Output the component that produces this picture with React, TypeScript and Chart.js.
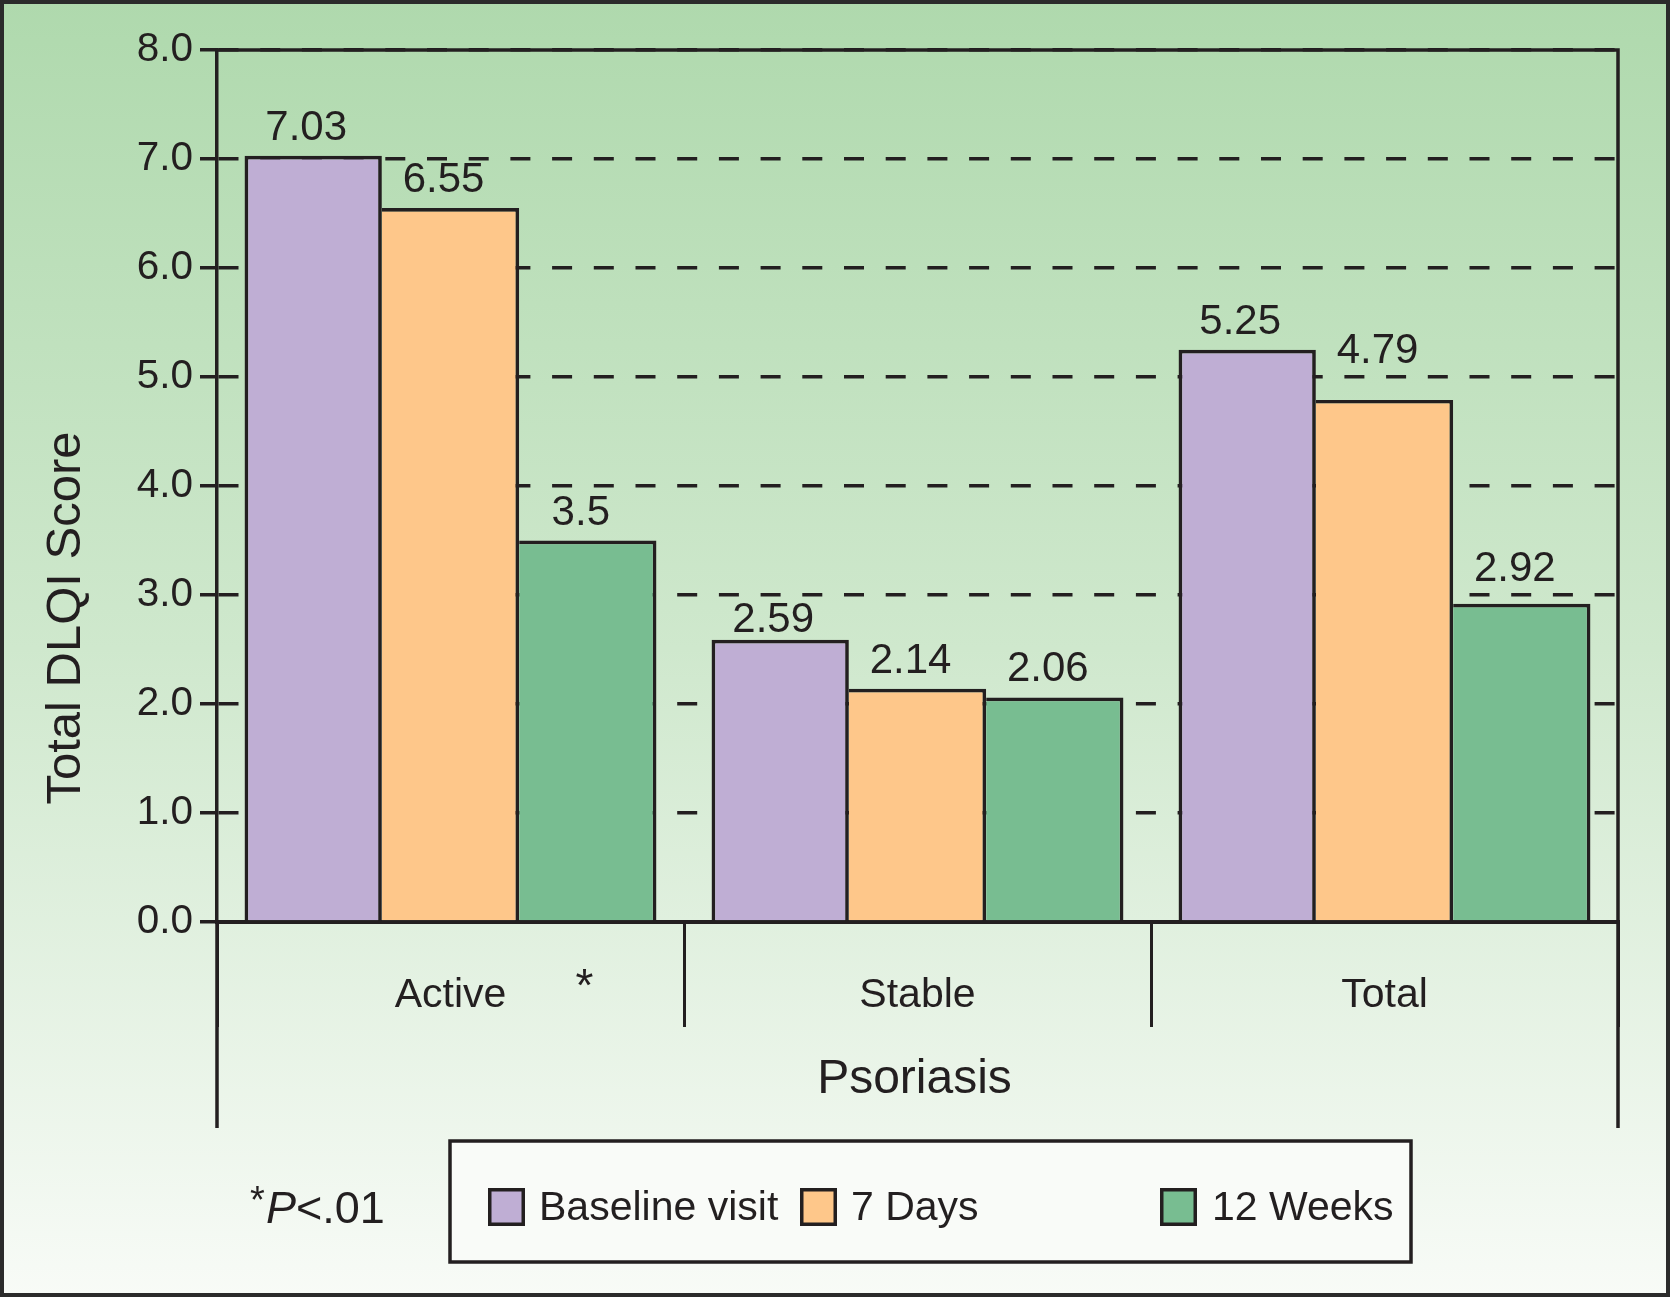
import React, { useEffect, useRef } from "react";
import { Chart, registerables } from "chart.js";

Chart.register(...registerables);

// ---- data ----
const categories = ["Active", "Stable", "Total"];
const seriesNames = ["Baseline visit", "7 Days", "12 Weeks"];
const baselineVisit = [7.03, 2.59, 5.25];
const sevenDays = [6.55, 2.14, 4.79];
const twelveWeeks = [3.5, 2.06, 2.92];
const yTickValues = [0, 1, 2, 3, 4, 5, 6, 7, 8];
const seriesColors = ["#bfaed4", "#fec78a", "#78bd91"];
const yTitle = "Total DLQI Score";
const xTitle = "Psoriasis";
const starCategory = "Active";
const footnote = ["*", "P", "<.01"];

// ---- style ----
const W = 1670;
const H = 1297;
const INK = "#231f20";
const FONT = "'Liberation Sans', Arial, Helvetica, sans-serif";
const LABEL_SIZE = 42;

// keep value labels clear of the dashed grid lines
function labelBaseline(barTop: number, gridYs: number[]): number {
  const capH = LABEL_SIZE * 0.716;
  const base = barTop - 16;
  const hit = gridYs.find((g) => g >= base - capH - 2 && g <= base + 10);
  if (hit === undefined) return base;
  const below = hit + 7 + capH;
  const above = hit - 14;
  if (below <= barTop - 5 && Math.abs(below - base) < Math.abs(above - base)) return below;
  return above;
}

const decorPlugin = {
  id: "decor",
  beforeDraw(chart: any) {
    const ctx = chart.ctx as CanvasRenderingContext2D;
    ctx.save();
    const g = ctx.createLinearGradient(0, 0, 0, H);
    g.addColorStop(0, "#afd9ad");
    g.addColorStop(0.5, "#cfe8cd");
    g.addColorStop(1, "#f8fbf7");
    ctx.fillStyle = g;
    ctx.fillRect(0, 0, W, H);
    ctx.restore();
  },
  afterDatasetsDraw(chart: any) {
    const ctx = chart.ctx as CanvasRenderingContext2D;
    const yScale = chart.scales.y;
    const gridYs = yScale.ticks.map((t: any) => yScale.getPixelForValue(t.value));
    ctx.save();
    ctx.fillStyle = INK;
    ctx.font = `${LABEL_SIZE}px ${FONT}`;
    ctx.textAlign = "center";
    ctx.textBaseline = "alphabetic";
    chart.data.datasets.forEach((ds: any, di: number) => {
      const meta = chart.getDatasetMeta(di);
      meta.data.forEach((bar: any, i: number) => {
        ctx.fillText(String(ds.data[i]), bar.x - 7, labelBaseline(bar.y, gridYs));
      });
    });
    ctx.restore();
  },
  afterDraw(chart: any) {
    const ctx = chart.ctx as CanvasRenderingContext2D;
    const a = chart.chartArea;
    const xScale = chart.scales.x;
    const extBottom = 1128;
    ctx.save();
    ctx.strokeStyle = INK;
    ctx.lineCap = "butt";
    ctx.lineWidth = 3.5;
    ctx.beginPath();
    ctx.moveTo(a.left - 1.75, a.top);
    ctx.lineTo(a.right + 1.75, a.top);
    ctx.moveTo(a.right, a.top);
    ctx.lineTo(a.right, extBottom);
    ctx.moveTo(a.left, a.bottom);
    ctx.lineTo(a.left, extBottom);
    ctx.stroke();

    ctx.fillStyle = INK;
    // y-axis title
    ctx.save();
    ctx.font = `49px ${FONT}`;
    ctx.translate(80, 618);
    ctx.rotate(-Math.PI / 2);
    ctx.textAlign = "center";
    ctx.textBaseline = "alphabetic";
    ctx.fillText(yTitle, 0, 0);
    ctx.restore();

    // x-axis title
    ctx.font = `48px ${FONT}`;
    ctx.textAlign = "center";
    ctx.textBaseline = "alphabetic";
    ctx.fillText(xTitle, (a.left + a.right) / 2 - 3, 1093);

    // significance star next to Active
    const idx = categories.indexOf(starCategory);
    const cx = xScale.getPixelForValue(idx);
    ctx.font = `46px ${FONT}`;
    ctx.fillText("*", cx + 134, 1001);

    // footnote *P<.01
    ctx.textAlign = "left";
    ctx.font = `38px ${FONT}`;
    ctx.fillText(footnote[0], 250, 1213);
    ctx.font = `italic 45px ${FONT}`;
    ctx.fillText(footnote[1], 266, 1223);
    const pw = ctx.measureText(footnote[1]).width;
    ctx.font = `45px ${FONT}`;
    ctx.fillText(footnote[2], 266 + pw, 1223);

    // legend box
    ctx.fillStyle = "#f9fbf8";
    ctx.fillRect(450, 1141, 961, 121);
    ctx.lineWidth = 3.5;
    ctx.strokeRect(450, 1141, 961, 121);
    const sqX = [488, 800, 1160];
    const txX = [539, 851, 1212];
    chart.data.datasets.forEach((ds: any, i: number) => {
      ctx.fillStyle = ds.backgroundColor;
      ctx.fillRect(sqX[i], 1188, 37, 38);
      ctx.lineWidth = 3.5;
      ctx.strokeStyle = INK;
      ctx.strokeRect(sqX[i] + 1.75, 1189.75, 33.5, 34.5);
      ctx.fillStyle = INK;
      ctx.font = `41px ${FONT}`;
      ctx.textAlign = "left";
      ctx.fillText(ds.label, txX[i], 1220);
    });

    // outer frame
    ctx.strokeStyle = "#2b2b2b";
    ctx.lineWidth = 4;
    ctx.strokeRect(2, 2, W - 4, H - 4);
    ctx.restore();
  },
};

export default function App() {
  const ref = useRef<HTMLCanvasElement | null>(null);

  useEffect(() => {
    document.body.style.margin = "0";
    const canvas = ref.current;
    if (!canvas) return;
    const values = [baselineVisit, sevenDays, twelveWeeks];
    const chart = new Chart(canvas, {
      type: "bar",
      data: {
        labels: categories,
        datasets: seriesNames.map((name, i) => ({
          label: name,
          data: values[i],
          backgroundColor: seriesColors[i],
          borderColor: INK,
          borderWidth:
            i === 0
              ? { top: 3.7, left: 3.7, right: 3.7, bottom: 0 }
              : { top: 3.7, left: 0, right: 3.7, bottom: 0 },
          borderSkipped: false,
          categoryPercentage: 0.882,
          barPercentage: 1,
        })),
      },
      options: {
        responsive: false,
        animation: false,
        devicePixelRatio: 1,
        layout: { padding: { top: 50, right: 52, left: 0, bottom: 0 } },
        plugins: { legend: { display: false }, tooltip: { enabled: false } },
        scales: {
          x: {
            grid: {
              offset: true,
              drawOnChartArea: false,
              drawTicks: true,
              tickLength: 105,
              tickWidth: 3,
              tickColor: INK,
              lineWidth: 3,
              color: INK,
            },
            border: { display: true, width: 4, color: INK },
            ticks: { font: { family: FONT, size: 41 }, color: INK, padding: -56 },
            afterFit: (s: any) => {
              s.height = 375;
            },
          },
          y: {
            min: yTickValues[0],
            max: yTickValues[yTickValues.length - 1],
            afterBuildTicks: (s: any) => {
              s.ticks = yTickValues.map((v) => ({ value: v }));
            },
            ticks: {
              callback: (v: any) => Number(v).toFixed(1),
              font: { family: FONT, size: 40.5 },
              color: INK,
              padding: 7,
            },
            grid: {
              color: INK,
              lineWidth: 3.5,
              tickLength: 17,
              tickWidth: 3.5,
              tickColor: INK,
            },
            border: { display: true, width: 3.5, color: INK, dash: [20, 21.7] },
            afterFit: (s: any) => {
              s.width = 217;
            },
          },
        },
      },
      plugins: [decorPlugin],
    } as any);
    return () => chart.destroy();
  }, []);

  return (
    <div style={{ width: W, height: H }}>
      <canvas ref={ref} width={W} height={H} style={{ display: "block", width: W, height: H }} />
    </div>
  );
}
